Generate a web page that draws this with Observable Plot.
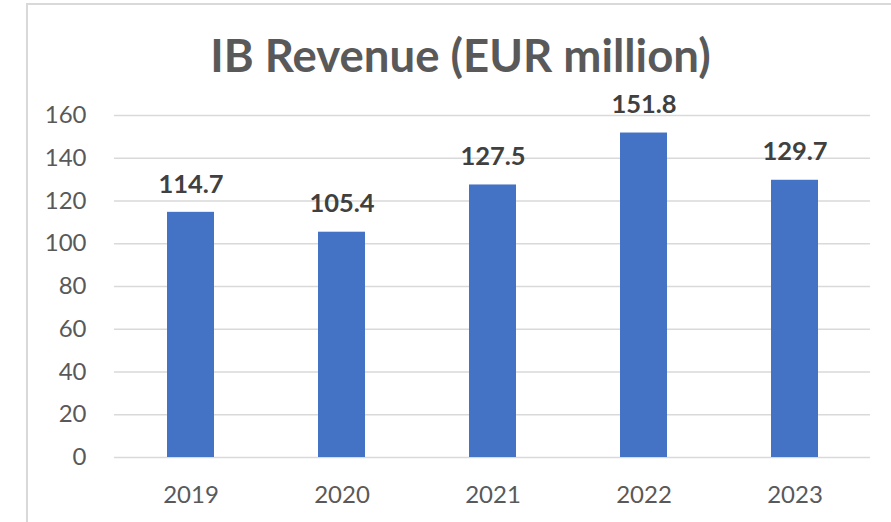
<!DOCTYPE html>
<html>
<head>
<meta charset="utf-8">
<script src="https://cdn.jsdelivr.net/npm/d3@7"></script>
<script src="https://cdn.jsdelivr.net/npm/@observablehq/plot@0.6"></script>
<style>
  html, body { margin: 0; padding: 0; background: #fff; overflow: hidden; }
  body { width: 891px; height: 522px; position: relative; font-family: Lato, "Open Sans", sans-serif; }
  #frame { position: absolute; left: 26px; top: 3px; width: 900px; height: 540px;
           border-left: 2px solid #d9d9d9; border-top: 2px solid #d9d9d9; }
  #title { position: absolute; left: 0; top: 0; width: 921px; height: 95px; line-height: 110px;
           text-align: center; font-weight: bold; font-size: 45.5px; color: #595959; }
  #chart { position: absolute; left: 0; top: 95px; }
</style>
</head>
<body>
<div id="frame"></div>
<div id="title">IB Revenue (EUR million)</div>
<div id="chart"></div>
<script>
const years = ["2019", "2020", "2021", "2022", "2023"];
const revenue = [114.7, 105.4, 127.5, 151.8, 129.7];
const yTicks = [0, 20, 40, 60, 80, 100, 120, 140, 160];

const data = years.map((year, i) => ({year, value: revenue[i]}));

const chart = Plot.plot({
  width: 891,
  height: 427,
  marginLeft: 114,
  marginRight: 21,
  marginTop: 20,
  marginBottom: 65,
  style: {fontFamily: "Lato, 'Open Sans', sans-serif", fontSize: "24px", color: "#595959", background: "transparent", overflow: "visible"},
  x: {domain: years, paddingInner: 0.69, paddingOuter: 0.345, label: null},
  y: {domain: [0, 160], label: null},
  marks: [
    Plot.gridY(yTicks, {stroke: "#d9d9d9", strokeOpacity: 1, strokeWidth: 1.5}),
    Plot.axisY(yTicks, {tickSize: 0, tickPadding: 28, fontSize: 24, fill: "#595959", label: null}),
    Plot.axisX({tickSize: 0, tickPadding: 28, fontSize: 24, fill: "#595959", label: null}),
    Plot.barY(data, {x: "year", y: "value", fill: "#4472c4"}),
    Plot.text(data, {x: "year", y: "value", text: d => d.value.toFixed(1), dy: -28,
      fontSize: 25.5, fontWeight: "bold", fill: "#404040"})
  ]
});
document.getElementById("chart").appendChild(chart);
</script>
</body>
</html>
